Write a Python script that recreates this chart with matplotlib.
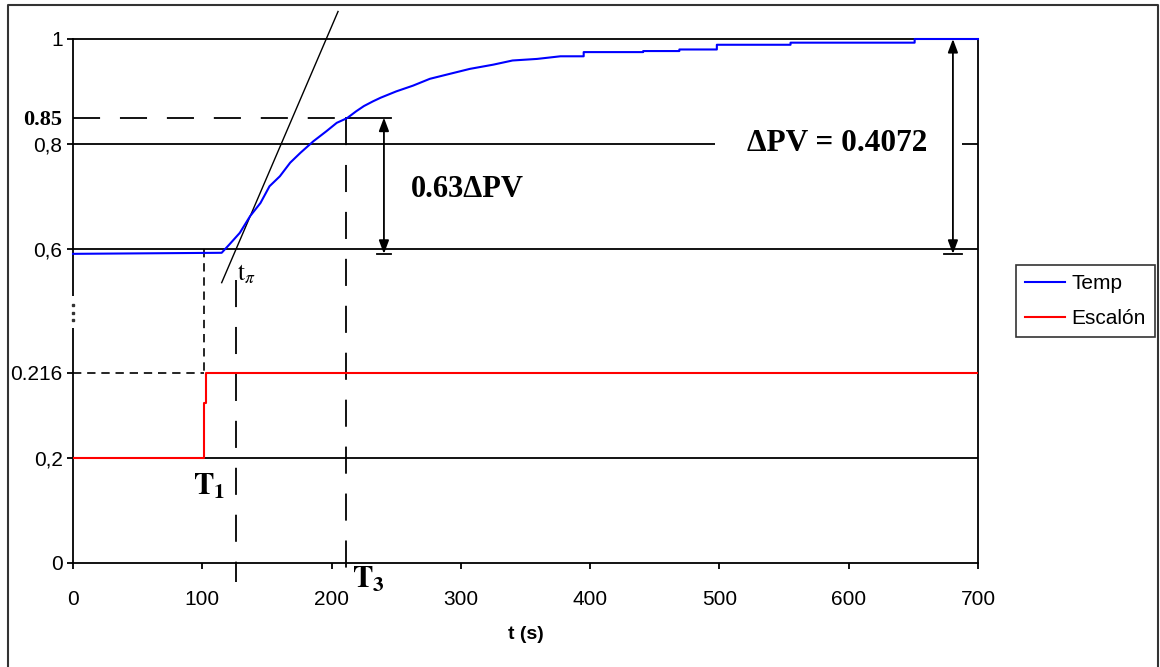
import matplotlib
matplotlib.use('Agg')
import matplotlib.pyplot as plt
from matplotlib.lines import Line2D

plt.rcParams['font.family'] = ['Liberation Sans', 'DejaVu Sans']
plt.rcParams['mathtext.fontset'] = 'stix'

# Temp response (t in s, value in plot units)
t_temp = [0, 115, 121, 129, 137, 145, 152, 160, 168, 176, 186, 196, 204, 212,
          219, 225, 232, 238, 250, 263, 276, 289, 307, 325, 340, 359, 377,
          395, 395, 441, 441, 469, 469, 498, 498, 555, 555, 651, 651, 700]
v_temp = [0.590, 0.592, 0.608, 0.630, 0.662, 0.687, 0.719, 0.738, 0.764, 0.783,
          0.805, 0.824, 0.840, 0.849, 0.862, 0.872, 0.881, 0.888, 0.900, 0.911,
          0.924, 0.932, 0.943, 0.951, 0.959, 0.962, 0.967, 0.967, 0.975, 0.975,
          0.977, 0.977, 0.980, 0.980, 0.989, 0.989, 0.993, 0.993, 1.0, 1.0]

# step input (Escalón)
t_step = [0, 101.3, 101.3, 102.9, 102.9, 700]
v_step = [0.2, 0.2, 0.306, 0.306, 0.363, 0.363]

# tangent line through the inflection
t_tan = [115, 205]
v_tan = [0.535, 1.0525]

# characteristic points
t1 = 101
t_pi = 126
t3 = 211
pv_start = 0.59
pv_63 = 0.85
pv_end = 1.0
step_hi = 0.363

x_ticks = [0, 100, 200, 300, 400, 500, 600, 700]
y_ticks = [0, 0.2, step_hi, 0.6, 0.8, pv_63, 1.0]
y_labels = ['0', '0,2', '0.216', '0,6', '0,8', '0.85', '1']

W, H = 1160, 667
fig = plt.figure(figsize=(W / 100, H / 100), dpi=100)
ax = fig.add_axes([73 / W, 104 / H, 905 / W, 524 / H])

# outer chart frame (bottom edge is cropped in the original)
fig.add_artist(Line2D([8 / W, 8 / W, 1158 / W, 1158 / W], [0, 1 - 5 / H, 1 - 5 / H, 0],
                      transform=fig.transFigure, color='#333333', lw=1.5))

ax.set_xlim(0, 700)
ax.set_ylim(0, 1)
for s in ax.spines.values():
    s.set_linewidth(1.3)
    s.set_color('black')

# gridlines
ax.hlines([0.2, 0.6], 0, 700, colors='black', lw=1.3, zorder=1)
ax.hlines(0.8, 0, 496.5, colors='black', lw=1.3, zorder=1)
ax.hlines(0.8, 687.6, 700, colors='black', lw=1.3, zorder=1)

long_dash = (0, (15, 11))
short_dash = (0, (5, 3.5))

# helper lines
ax.plot([0, t3], [pv_63, pv_63], color='black', lw=1.3, ls=long_dash)
ax.plot([t3, 246], [pv_63, pv_63], color='black', lw=1.3)
ax.plot([t3, t3], [pv_63, -0.036], color='black', lw=1.3, ls=long_dash, clip_on=False)
ax.plot([t_pi, t_pi], [0.54, -0.036], color='black', lw=1.3, ls=long_dash, clip_on=False)
ax.plot([0, t1], [step_hi, step_hi], color='black', lw=1.2, ls=short_dash)
ax.plot([t1, t1], [0.6, step_hi], color='black', lw=1.2, ls=short_dash)
ax.plot(t_tan, v_tan, color='black', lw=1.0, clip_on=False)

# data
ax.plot(t_step, v_step, color='#ff0000', lw=1.5, label='Escalón', zorder=4)
ax.plot(t_temp, v_temp, color='#0000ff', lw=1.5, label='Temp', zorder=5, clip_on=False)

# arrows
arrow = dict(arrowstyle='<|-|>,head_length=0.8,head_width=0.3', color='black',
             lw=1.3, shrinkA=0, shrinkB=0)
x63 = 240.5
ax.annotate('', xy=(x63, pv_63), xytext=(x63, pv_start), arrowprops=arrow)
ax.plot([x63 - 5.4, x63 + 5.4], [pv_start, pv_start], color='black', lw=1.3)
xpv = 680.6
ax.annotate('', xy=(xpv, pv_end), xytext=(xpv, pv_start), arrowprops=arrow)
ax.plot([xpv - 7, xpv + 7], [pv_start, pv_start], color='black', lw=1.3)

ax.text(261.4, 0.7125, '0.63\u0394PV', family='Liberation Serif', weight='bold',
        size=22, ha='left', va='center')
ax.text(521.3, 0.80, '\u0394PV = 0.4072', family='Liberation Serif', weight='bold',
        size=22.5, ha='left', va='center')

ax.text(92.8, 0.13, r'$\mathbf{T}_\mathbf{1}$', size=22, ha='left', va='baseline')
ax.text(216.0, -0.048, r'$\mathbf{T}_\mathbf{3}$', size=22, ha='left', va='baseline')
ax.text(126.5, 0.539, r'$\mathrm{t}_\pi$', size=18, ha='left', va='baseline')

# axis break marks on the y axis
ax.plot([0, 0], [0.449, 0.510], color='white', lw=3, clip_on=False, zorder=6,
        solid_capstyle='butt')
ax.plot([0, 0, 0], [0.493, 0.478, 0.463], ls='none', marker='s', ms=1.6,
        color='#333333', clip_on=False, zorder=7)

# ticks
ax.set_xticks(x_ticks)
ax.set_xticklabels([str(v) for v in x_ticks])
ax.set_yticks(y_ticks)
ax.set_yticklabels(y_labels)
ax.tick_params(axis='y', direction='out', length=4.5, width=1.3, pad=3, labelsize=15)
ax.tick_params(axis='x', direction='out', length=4.5, width=1.3, pad=15, labelsize=15)
lab85 = ax.get_yticklabels()[5]
lab85.set_fontfamily('Liberation Serif')
lab85.set_fontweight('bold')
lab85.set_fontsize(16)
ax.yaxis.get_major_ticks()[5].tick1line.set_visible(False)

ax.set_xlabel('t (s)', weight='bold', size=14, labelpad=12)

handles, labels = ax.get_legend_handles_labels()
leg = ax.legend(handles[::-1], labels[::-1], loc='upper left',
                bbox_to_anchor=(1016 / W, 1 - 265 / H), bbox_transform=fig.transFigure,
                borderaxespad=0, fancybox=False, frameon=True, fontsize=15,
                handlelength=1.9, handletextpad=0.3, labelspacing=0.75,
                borderpad=0.45)
leg.get_frame().set_edgecolor('black')
leg.get_frame().set_linewidth(1.2)

fig.savefig('out.png', dpi=100)
